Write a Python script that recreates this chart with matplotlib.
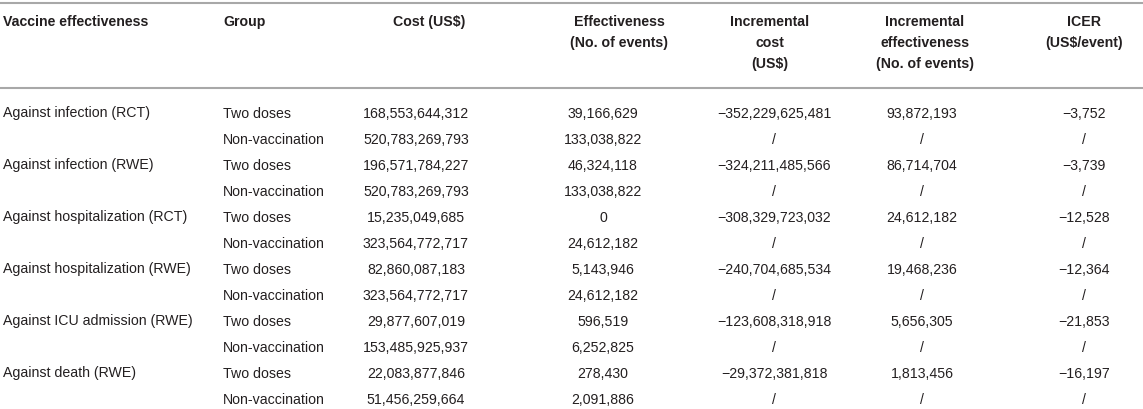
import matplotlib.pyplot as plt

plt.rcParams['font.family'] = ['Liberation Sans', 'DejaVu Sans']

# table data
effect_labels = ["Against infection (RCT)", "Against infection (RWE)",
                 "Against hospitalization (RCT)", "Against hospitalization (RWE)",
                 "Against ICU admission (RWE)", "Against death (RWE)"]
group_labels = ["Two doses", "Non-vaccination"]

cost = [168553644312, 520783269793, 196571784227, 520783269793,
        15235049685, 323564772717, 82860087183, 323564772717,
        29877607019, 153485925937, 22083877846, 51456259664]
effectiveness = [39166629, 133038822, 46324118, 133038822,
                 0, 24612182, 5143946, 24612182,
                 596519, 6252825, 278430, 2091886]
inc_cost = [-352229625481, None, -324211485566, None,
            -308329723032, None, -240704685534, None,
            -123608318918, None, -29372381818, None]
inc_eff = [93872193, None, 86714704, None,
           24612182, None, 19468236, None,
           5656305, None, 1813456, None]
icer = [-3752, None, -3739, None,
        -12528, None, -12364, None,
        -21853, None, -16197, None]

headers = ["Vaccine effectiveness", "Group", "Cost (US$)",
           "Effectiveness\n(No. of events)", "Incremental\ncost\n(US$)",
           "Incremental\neffectiveness\n(No. of events)", "ICER\n(US$/event)"]


def fmt(v):
    if v is None:
        return "/"
    return f"{v:,}".replace("-", "\u2212")


W, H = 1143, 409
fig = plt.figure(figsize=(W / 100, H / 100), dpi=100)
ax = fig.add_axes([0, 0, 1, 1])
ax.set_xlim(0, W)
ax.set_ylim(H, 0)
ax.axis("off")

txt_color = "#231f20"
line_color = "#a8a8a8"
fs = 10.2

# header positions: (x, ha)
head_pos = [(3, "left"), (223, "left"), (429, "center"), (619, "center"),
            (770, "center"), (925, "center"), (1084, "center")]
for (x, ha), h in zip(head_pos, headers):
    for k, line in enumerate(h.split("\n")):
        ax.text(x, 22 + k * 21, line, ha=ha, va="center", fontsize=fs,
                fontweight="bold", color=txt_color)

ax.axhline(3, color=line_color, lw=1.5)
ax.axhline(87.5, color=line_color, lw=1.5)

# body
row0, step = 113.5, 26.0
cols = [cost, effectiveness, inc_cost, inc_eff, icer]
col_x = [416, 603, 774, 922, 1084]
for i in range(len(cost)):
    y = row0 + i * step
    if i % 2 == 0:
        ax.text(3, y, effect_labels[i // 2], ha="left", va="center",
                fontsize=fs, color=txt_color)
    ax.text(223, y, group_labels[i % 2], ha="left", va="center",
            fontsize=fs, color=txt_color)
    for x, col in zip(col_x, cols):
        ax.text(x, y, fmt(col[i]), ha="center", va="center",
                fontsize=fs, color=txt_color)

fig.savefig("out.png", dpi=100, facecolor="white")
